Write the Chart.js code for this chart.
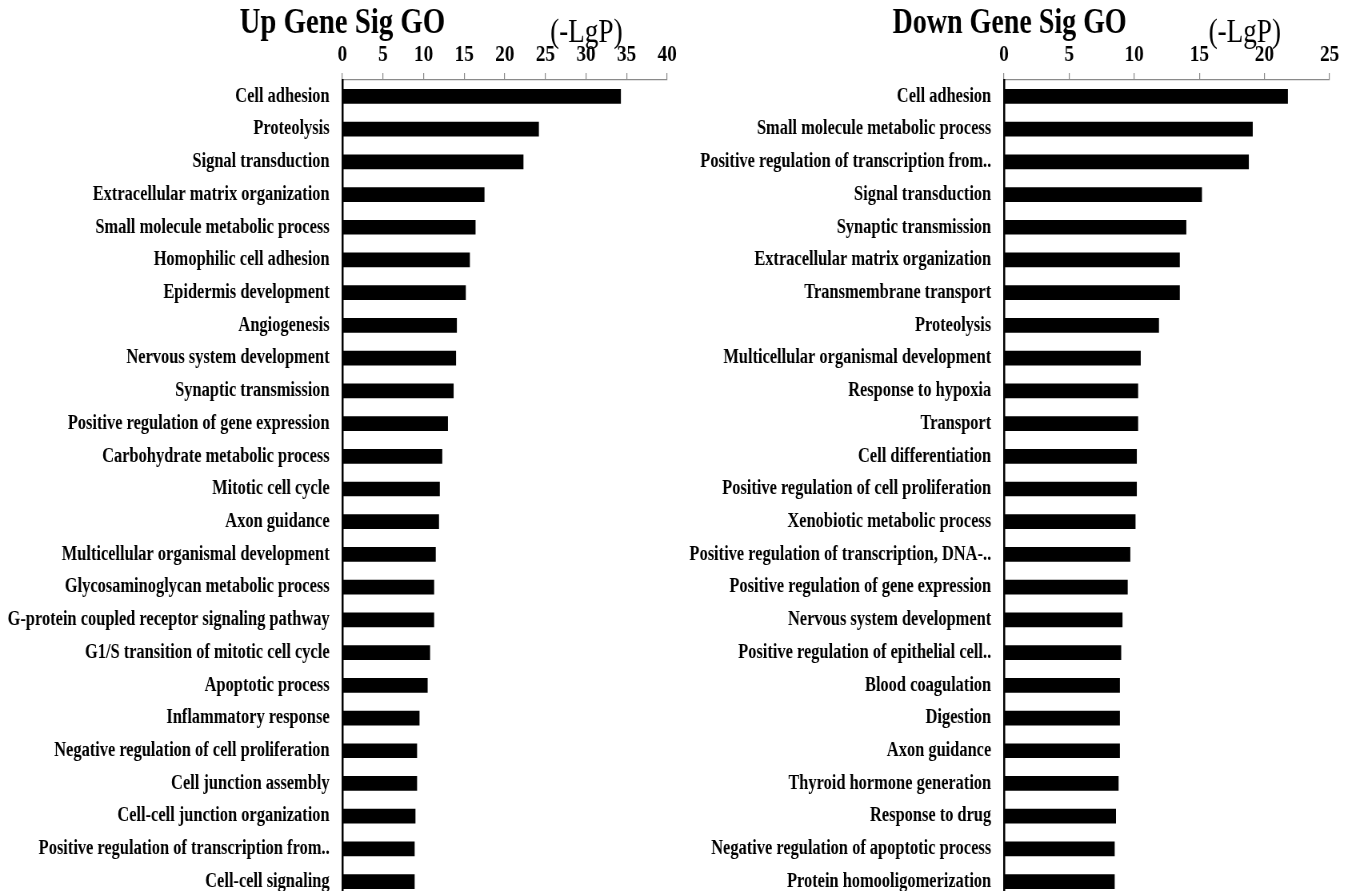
<!DOCTYPE html>
<html>
<head>
<meta charset="utf-8">
<script src="https://cdn.jsdelivr.net/npm/chart.js@4.4.1/dist/chart.umd.min.js"></script>
<style>
  html, body { margin: 0; padding: 0; background: #fff; width: 1356px; height: 891px; overflow: hidden; }
  .panel { position: absolute; top: 0; height: 898px; transform-origin: 0 0; transform: scaleX(0.8); }
  #upWrap { left: 0; width: 850px; }
  #downWrap { left: 680px; width: 845px; }
</style>
</head>
<body>
<div class="panel" id="upWrap"><canvas id="up"></canvas></div>
<div class="panel" id="downWrap"><canvas id="down"></canvas></div>
<script>
// Up-regulated gene GO terms, -log10(P)
const upLabels = [
  "Cell adhesion",
  "Proteolysis",
  "Signal transduction",
  "Extracellular matrix organization",
  "Small molecule metabolic process",
  "Homophilic cell adhesion",
  "Epidermis development",
  "Angiogenesis",
  "Nervous system development",
  "Synaptic transmission",
  "Positive regulation of gene expression",
  "Carbohydrate metabolic process",
  "Mitotic cell cycle",
  "Axon guidance",
  "Multicellular organismal development",
  "Glycosaminoglycan metabolic process",
  "G-protein coupled receptor signaling pathway",
  "G1/S transition of mitotic cell cycle",
  "Apoptotic process",
  "Inflammatory response",
  "Negative regulation of cell proliferation",
  "Cell junction assembly",
  "Cell-cell junction organization",
  "Positive regulation of transcription from..",
  "Cell-cell signaling"
];
const upValues = [34.3, 24.2, 22.3, 17.5, 16.4, 15.7, 15.2, 14.1, 14.0, 13.7, 13.0, 12.3,
                  12.0, 11.9, 11.5, 11.3, 11.3, 10.8, 10.5, 9.5, 9.2, 9.2, 9.0, 8.9, 8.9];
const upTicks = [0, 5, 10, 15, 20, 25, 30, 35, 40];

// Down-regulated gene GO terms, -log10(P)
const downLabels = [
  "Cell adhesion",
  "Small molecule metabolic process",
  "Positive regulation of transcription from..",
  "Signal transduction",
  "Synaptic transmission",
  "Extracellular matrix organization",
  "Transmembrane transport",
  "Proteolysis",
  "Multicellular organismal development",
  "Response to hypoxia",
  "Transport",
  "Cell differentiation",
  "Positive regulation of cell proliferation",
  "Xenobiotic metabolic process",
  "Positive regulation of transcription, DNA-..",
  "Positive regulation of gene expression",
  "Nervous system development",
  "Positive regulation of epithelial cell..",
  "Blood coagulation",
  "Digestion",
  "Axon guidance",
  "Thyroid hormone generation",
  "Response to drug",
  "Negative regulation of apoptotic process",
  "Protein homooligomerization"
];
const downValues = [21.8, 19.1, 18.8, 15.2, 14.0, 13.5, 13.5, 11.9, 10.5, 10.3, 10.3, 10.2,
                    10.2, 10.1, 9.7, 9.5, 9.1, 9.0, 8.9, 8.9, 8.9, 8.8, 8.6, 8.5, 8.5];
const downTicks = [0, 5, 10, 15, 20, 25];

const SERIF = '"Liberation Serif", "Times New Roman", serif';

// Draws the panel heading and the unit caption above the value axis
const headingPlugin = {
  id: 'heading',
  afterDraw(chart, args, opts) {
    const { ctx, chartArea } = chart;
    ctx.save();
    ctx.fillStyle = '#000';
    ctx.textAlign = 'center';
    ctx.textBaseline = 'alphabetic';
    ctx.font = 'bold ' + opts.titleSize + 'px ' + SERIF;
    ctx.fillText(opts.title, chartArea.left + opts.titleShift, 33);
    ctx.font = '34px ' + SERIF;
    ctx.fillText(opts.unit, chartArea.right - opts.unitShift, 42);
    ctx.restore();
  }
};

function buildChart(id, labels, values, ticks, cfg) {
  return new Chart(document.getElementById(id), {
    type: 'bar',
    data: {
      labels: labels,
      datasets: [{
        data: values,
        backgroundColor: '#000',
        borderWidth: 0,
        barPercentage: 0.45,
        categoryPercentage: 1.0
      }]
    },
    plugins: [headingPlugin],
    options: {
      indexAxis: 'y',
      responsive: true,
      maintainAspectRatio: false,
      animation: false,
      devicePixelRatio: 1,
      layout: { padding: { top: 0, right: cfg.padRight, bottom: 0, left: 0 } },
      plugins: {
        legend: { display: false },
        tooltip: { enabled: false },
        heading: { title: cfg.title, titleSize: cfg.titleSize, unit: '(-LgP)', titleShift: cfg.titleShift, unitShift: cfg.unitShift }
      },
      scales: {
        x: {
          position: 'top',
          min: ticks[0],
          max: ticks[ticks.length - 1],
          afterBuildTicks: (s) => { s.ticks = ticks.map(v => ({ value: v })); },
          afterFit: (s) => { s.height = 80; },
          grid: { display: true, drawOnChartArea: false, drawTicks: true, tickLength: 7, color: '#8a8a8a', lineWidth: 1.2 },
          border: { display: true, color: '#8a8a8a', width: 1.2 },
          ticks: {
            color: '#000',
            padding: 4,
            maxRotation: 0,
            autoSkip: false,
            font: { family: SERIF, size: 24, weight: 'bold' }
          }
        },
        y: {
          // the category axis spans the full canvas height; the last rows run to the lower edge
          afterFit: (s) => { s.width = cfg.axisLeft; s.paddingTop = 0; s.paddingBottom = 0; },
          grid: { display: false, drawTicks: false },
          border: { display: true, color: '#000', width: 2.5 },
          ticks: {
            color: '#000',
            padding: 16,
            autoSkip: false,
            font: { family: SERIF, size: 20.5, weight: 'bold' }
          }
        }
      }
    }
  });
}

buildChart('up', upLabels, upValues, upTicks,
  { title: 'Up Gene Sig GO', titleSize: 36, axisLeft: 428, padRight: 15, titleShift: 0, unitShift: 101 });
buildChart('down', downLabels, downValues, downTicks,
  { title: 'Down Gene Sig GO', titleSize: 35, axisLeft: 405, padRight: 33, titleShift: 7, unitShift: 106 });
</script>
</body>
</html>
